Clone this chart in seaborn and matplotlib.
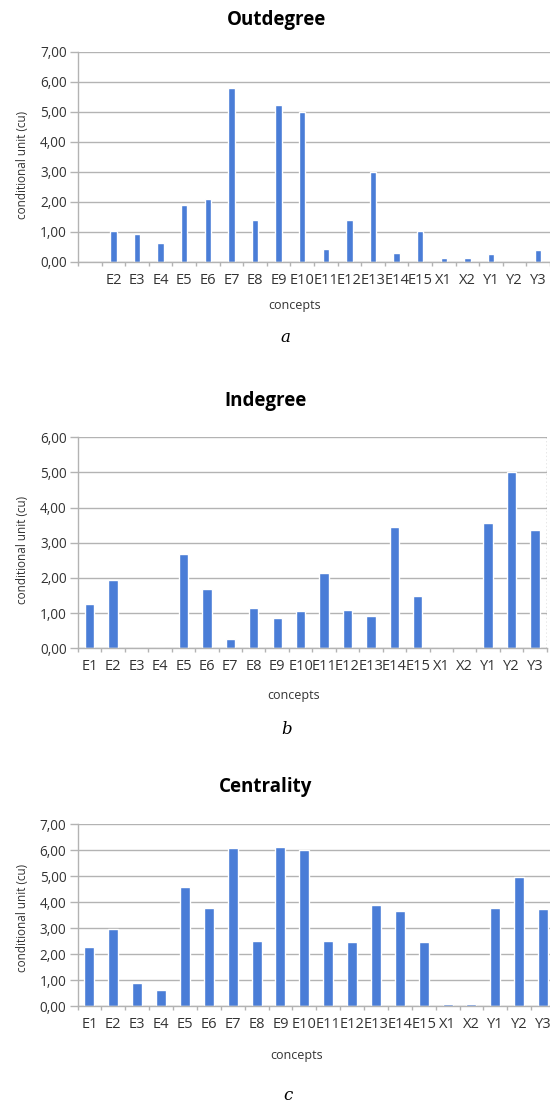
import pandas as pd
import matplotlib
matplotlib.use("Agg")
import matplotlib.pyplot as plt
import seaborn as sns
from matplotlib.ticker import FuncFormatter, FixedLocator

# values
concepts = ["E1", "E2", "E3", "E4", "E5", "E6", "E7", "E8", "E9", "E10",
            "E11", "E12", "E13", "E14", "E15", "X1", "X2", "Y1", "Y2", "Y3"]
outdegree_labels = [""] + concepts[1:]

outdegree = [0.0, 1.02, 0.92, 0.61, 1.90, 2.10, 5.78, 1.39, 5.24, 4.99,
             0.41, 1.39, 2.99, 0.28, 1.02, 0.11, 0.11, 0.24, 0.0, 0.38]
indegree = [1.25, 1.94, 0.0, 0.0, 2.69, 1.68, 0.27, 1.14, 0.87, 1.05,
            2.15, 1.08, 0.93, 3.44, 1.50, 0.0, 0.0, 3.55, 5.0, 3.35]
centrality = [2.27, 2.96, 0.91, 0.61, 4.57, 3.76, 6.07, 2.52, 6.11, 6.02,
              2.52, 2.45, 3.89, 3.67, 2.48, 0.09, 0.09, 3.76, 4.98, 3.73]

BAR = "#4a7dd7"
GRID = "#b3b3b3"
TXT = "#333333"

sns.set_style("white")
plt.rcParams["font.family"] = ["Open Sans", "DejaVu Sans"]

W, H = 550, 1104
fig = plt.figure(figsize=(W / 100, H / 100), dpi=100)


def px_axes(left, right, top, bottom):
    return fig.add_axes([left / W, 1 - bottom / H, (right - left) / W, (bottom - top) / H])


def draw_panel(ax, values, labels, ymax, width):
    df = pd.DataFrame({"concept": concepts, "value": values})
    sns.barplot(data=df, x="concept", y="value", order=concepts, color=BAR,
                width=width, saturation=1, ax=ax)
    ax.set_xlim(-0.5, len(concepts) - 0.5)
    ax.set_ylim(0, ymax)
    ax.set_yticks(range(0, ymax + 1))
    ax.yaxis.set_major_formatter(FuncFormatter(lambda v, p: f"{v:.2f}".replace(".", ",")))
    ax.set_xticks(range(len(concepts)))
    ax.set_xticklabels(labels)
    ax.xaxis.set_minor_locator(FixedLocator([i - 0.5 for i in range(len(concepts) + 1)]))
    ax.tick_params(axis="x", which="major", length=0, pad=8, labelsize=10.5, labelcolor=TXT)
    ax.tick_params(axis="x", which="minor", length=3, width=1, color=GRID, bottom=True)
    ax.tick_params(axis="y", length=6, width=1, color=GRID, left=True, pad=2,
                   labelsize=9.8, labelcolor=TXT)
    ax.grid(axis="y", color=GRID, lw=1)
    ax.set_axisbelow(True)
    for s in ["top", "right"]:
        ax.spines[s].set_visible(False)
    for s in ["left", "bottom"]:
        ax.spines[s].set_color(GRID)
        ax.spines[s].set_linewidth(1)
    ax.set_xlabel("")
    ax.set_ylabel("")


ax_a = px_axes(78, 550, 51.7, 261.7)
draw_panel(ax_a, outdegree, outdegree_labels, 7, 0.27)

ax_b = px_axes(78, 546.7, 437.3, 648.3)
draw_panel(ax_b, indegree, concepts, 6, 0.4)
ax_b.axvline(len(concepts) - 0.5, color="#888888", lw=1, ls=":")

ax_c = px_axes(77.5, 555, 824, 1006.3)
draw_panel(ax_c, centrality, concepts, 7, 0.42)

# titles, axis labels, captions
for title, x, y in [("Outdegree", 277, 20), ("Indegree", 266, 401), ("Centrality", 266, 787)]:
    fig.text(x / W, 1 - y / H, title, ha="center", va="center", fontsize=13.5,
             fontweight="bold", color="black")
for x, y in [(295, 305), (294, 695), (297, 1055)]:
    fig.text(x / W, 1 - y / H, "concepts", ha="center", va="center", fontsize=9, color=TXT)
for y in [165, 550, 918]:
    fig.text(23 / W, 1 - y / H, "conditional unit (cu)", ha="center", va="center",
             rotation=90, fontsize=8.5, color=TXT)
for cap, x, y in [("a", 285, 338), ("b", 287, 730), ("c", 288, 1095)]:
    fig.text(x / W, 1 - y / H, cap, ha="center", va="center", fontsize=12,
             style="italic", family="DejaVu Serif", color="black")

fig.savefig("out.png", dpi=100)
